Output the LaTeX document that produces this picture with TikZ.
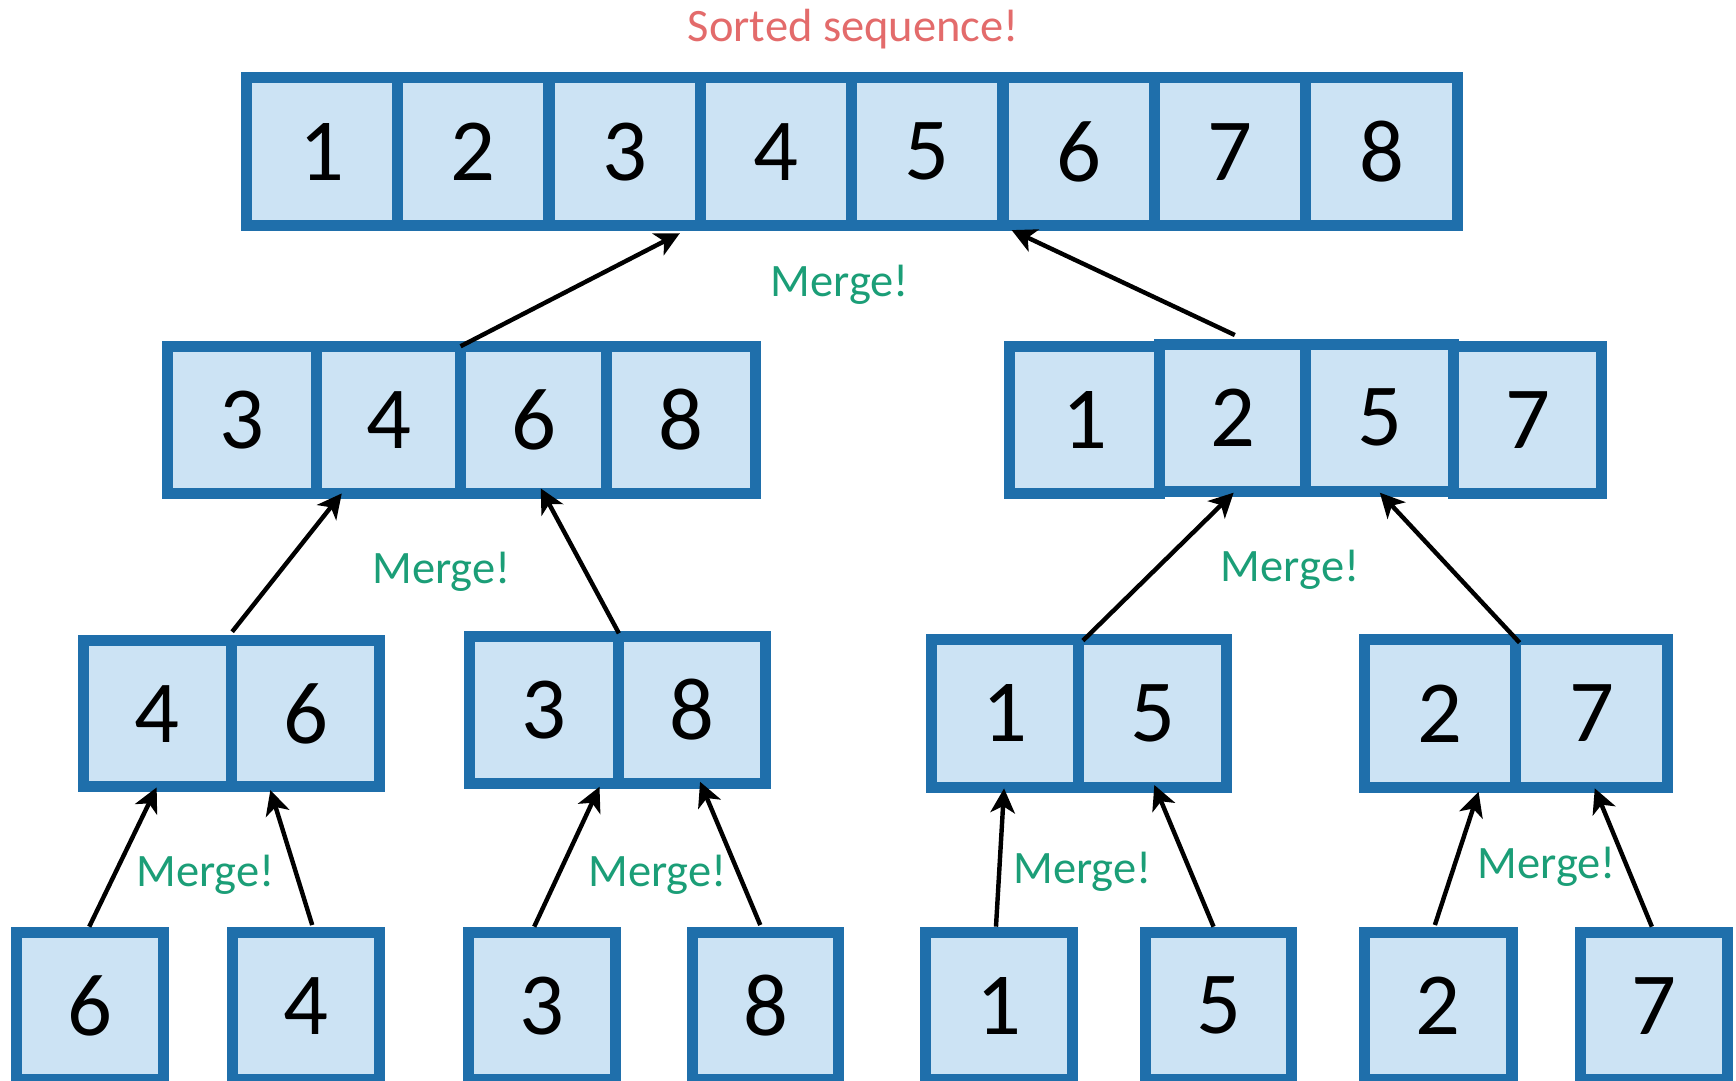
\documentclass[tikz,border=0pt]{standalone}
\usepackage{fontspec}
\setmainfont{Carlito}
\usetikzlibrary{arrows.meta,calc}
\definecolor{cellblue}{HTML}{1F6FAB}
\definecolor{cellfill}{HTML}{CCE3F4}
\definecolor{mergegreen}{HTML}{1B9E77}
\definecolor{sortedred}{HTML}{E36B6B}
\begin{document}
\begin{tikzpicture}[x=1pt,y=-1pt,
  cell/.style 2 args={draw=cellblue, fill=cellfill, line width=10pt,
    minimum width=#1pt, minimum height=#2pt, inner sep=0pt, outer sep=0pt,
    font=\fontsize{80}{96}\selectfont},
  mergelbl/.style={text=mergegreen, font=\fontsize{42}{50}\selectfont, anchor=base, inner sep=0pt},
  titlelbl/.style={text=sortedred, font=\fontsize{42}{50}\selectfont, anchor=base, inner sep=0pt},
  conn/.style={-{Stealth[length=22pt,width=22pt,inset=6pt]}, line width=4pt, black}]
\useasboundingbox (0,0) rectangle (1568,976);
\clip (0,0) rectangle (1568,976);
% top row
\node[cell={136.7}{133.3}] (t1) at (290.8,137) {1};
\node[cell={136.7}{133.3}] (t2) at (427.5,137) {2};
\node[cell={136.7}{133.3}] (t3) at (564.2,137) {3};
\node[cell={136.7}{133.3}] (t4) at (700.9,137) {4};
\node[cell={136.7}{133.3}] (t5) at (837.6,137) {5};
\node[cell={136.7}{133.3}] (t6) at (974.3,137) {6};
\node[cell={136.7}{133.3}] (t7) at (1111.0,137) {7};
\node[cell={136.7}{133.3}] (t8) at (1247.8,137) {8};
% second row left
\node[cell={135}{133.3}] (l1) at (218.5,379.4) {3};
\node[cell={130}{133.3}] (l2) at (351,379.4) {4};
\node[cell={132}{133.3}] (l3) at (482,379.4) {6};
\node[cell={134.3}{133.3}] (l4) at (615.2,379.4) {8};
% second row right
\node[cell={135.2}{133.3}] (r1) at (979.6,379.4) {1};
\node[cell={133.7}{133.3}] (r4) at (1379.8,379.4) {7};
\node[cell={132.2}{132.4}] (r2) at (1113.3,377.4) {2};
\node[cell={133.5}{132.4}] (r3) at (1246.2,377.4) {5};
% third row
\node[cell={133.5}{132}] (a1) at (142.2,644.6) {4};
\node[cell={134}{132}] (a2) at (276,644.6) {6};
\node[cell={134.4}{133}] (b1) at (491.6,641.2) {3};
\node[cell={133}{133}] (b2) at (625.3,641.2) {8};
\node[cell={133.3}{133.3}] (c1) at (907.6,644.3) {1};
\node[cell={133.7}{133.3}] (c2) at (1041.1,644.3) {5};
\node[cell={137.1}{133.3}] (d1) at (1300.6,644.3) {2};
\node[cell={137}{133.3}] (d2) at (1437.7,644.3) {7};
% bottom row
\node[cell={132.9}{133}] (s1) at (81.6,908.5) {6};
\node[cell={132.9}{133}] (s2) at (276.5,908.5) {4};
\node[cell={132.8}{133}] (s3) at (489.9,908.5) {3};
\node[cell={131.3}{133}] (s4) at (691.4,908.5) {8};
\node[cell={132.6}{133}] (s5) at (902,908.5) {1};
\node[cell={132.1}{133}] (s6) at (1100.7,908.5) {5};
\node[cell={133.5}{133}] (s7) at (1298.9,908.5) {2};
\node[cell={133.1}{133}] (s8) at (1493.7,908.5) {7};
% labels
\node[titlelbl] (title) at (770.8,37.6) {Sorted sequence!};
\node[mergelbl] (m1) at (758.5,267.4) {Merge!};
\node[mergelbl] (m2) at (398.8,526.9) {Merge!};
\node[mergelbl] (m3) at (1165.2,525.4) {Merge!};
\node[mergelbl] (m4) at (185.5,800.9) {Merge!};
\node[mergelbl] (m5) at (593.8,800.9) {Merge!};
\node[mergelbl] (m6) at (977.7,797.9) {Merge!};
\node[mergelbl] (m7) at (1396.9,793.4) {Merge!};
% connectors
\draw[conn] (l3.north west) -- ($(t3.south east)+(-18.5,7)$);
\draw[conn] ($(r2.north)+(2,-8.6)$) -- ($(t6.south west)+(7.8,4.2)$);
\draw[conn] ($(a1.north east)+(0.75,-8)$) -- ($(l2.south west)+(22.7,-0.4)$);
\draw[conn] ($(b1.north east)+(0.2,-2.7)$) -- ($(l3.south)+(6.4,-4.9)$);
\draw[conn] ($(c1.north east)+(3.85,1)$) -- ($(r2.south)+(1,1.4)$);
\draw[conn] ($(d1.north east)+(3.35,2.8)$) -- ($(r3.south)+(0.1,1.4)$);
\draw[conn] ($(s1.north)+(-1,-5)$) -- ($(a1.south)+(-0.7,0.6)$);
\draw[conn] ($(s2.north)+(5.5,-6.5)$) -- ($(a2.south)+(-31.8,3)$);
\draw[conn] ($(s3.north)+(-7.4,-5)$) -- ($(b1.south)+(49.9,2.9)$);
\draw[conn] ($(s4.north)+(-4.7,-6.5)$) -- ($(b2.south)+(7,-1.6)$);
\draw[conn] ($(s5.north)+(-2.4,-5)$) -- ($(c1.south)+(-0.7,1.15)$);
\draw[conn] ($(s6.north)+(-4.6,-5)$) -- ($(c2.south)+(1.5,-1.95)$);
\draw[conn] ($(s7.north)+(-2.9,-6.5)$) -- ($(d1.south)+(34.9,4.15)$);
\draw[conn] ($(s8.north)+(-1.7,-5)$) -- ($(d2.south)+(2.7,1.05)$);
\end{tikzpicture}
\end{document}
